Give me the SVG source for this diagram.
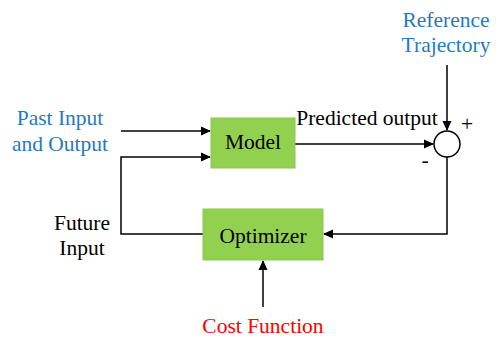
<svg xmlns="http://www.w3.org/2000/svg" width="496" height="338" viewBox="0 0 496 338">
<style>
text{font-family:"Liberation Serif","Times New Roman",Times,serif;text-anchor:middle}
.box{fill:#92d050;stroke:#8cc84a;stroke-width:1}
.lbl{font-size:21.5px;fill:#000}
.blue{font-size:21.5px;fill:#1f7ac4}
.ln{fill:none;stroke:#000;stroke-width:1.5}
</style>
<defs>
<marker id="ah" markerWidth="10" markerHeight="10" refX="9" refY="5" orient="auto" markerUnits="userSpaceOnUse">
<path d="M0,0.5 L10,5 L0,9.5 Z" fill="#000"/>
</marker>
</defs>
<rect width="496" height="338" fill="#fff"/>
<g id="connectors">
<line class="ln" x1="121" y1="131" x2="210" y2="131" marker-end="url(#ah)"/>
<polyline class="ln" points="203,234 121,234 121,157 210,157" marker-end="url(#ah)"/>
<line class="ln" x1="295" y1="144" x2="433" y2="144" marker-end="url(#ah)"/>
<line class="ln" x1="447" y1="65" x2="447" y2="130" marker-end="url(#ah)"/>
<polyline class="ln" points="447,157 447,234 324,234" marker-end="url(#ah)"/>
<line class="ln" x1="263" y1="307" x2="263" y2="261" marker-end="url(#ah)"/>
</g>
<g id="model">
<rect class="box" x="211" y="118" width="84" height="50"/>
<text class="lbl" x="253" y="149">Model</text>
</g>
<g id="optimizer">
<rect class="box" x="203" y="209" width="120" height="51"/>
<text class="lbl" x="263" y="243">Optimizer</text>
</g>
<g id="sum">
<circle cx="447" cy="144" r="13" fill="#fff" stroke="#000" stroke-width="1.5"/>
<text class="lbl" x="467" y="131" font-size="17">+</text>
<text class="lbl" x="425" y="167" font-size="17">-</text>
</g>
<g id="labels">
<text class="blue" x="446" y="27">Reference</text>
<text class="blue" x="446" y="52">Trajectory</text>
<text class="lbl" x="367" y="125" font-size="19">Predicted output</text>
<text class="blue" x="60" y="125">Past Input</text>
<text class="blue" x="60" y="151">and Output</text>
<text class="lbl" x="82" y="230">Future</text>
<text class="lbl" x="82" y="255">Input</text>
<text class="lbl" x="263" y="333" style="fill:#f00">Cost Function</text>
</g>
</svg>
